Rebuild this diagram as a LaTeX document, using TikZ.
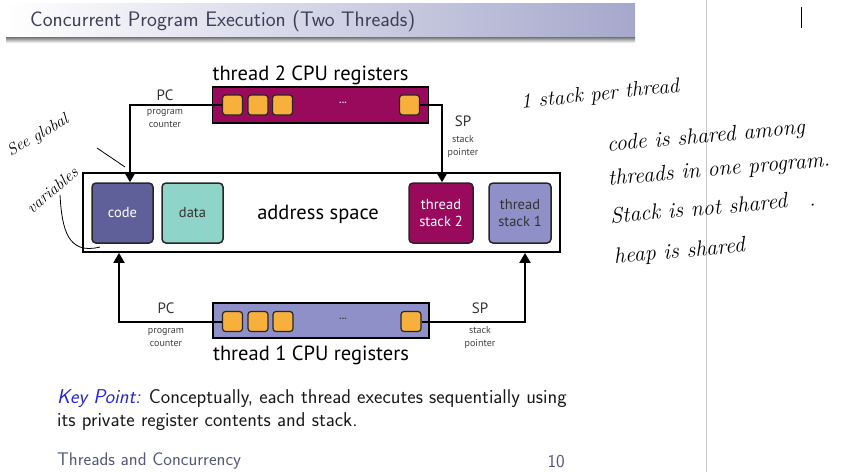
\documentclass[tikz,border=0pt]{standalone}
\usepackage{fontspec}
\newfontfamily\dfont{PT Sans}
\usetikzlibrary{arrows.meta}
\definecolor{magbar}{HTML}{990A5C}
\definecolor{regorange}{HTML}{F7B03C}
\definecolor{codecol}{HTML}{5F5F99}
\definecolor{datacol}{HTML}{8FD4C9}
\definecolor{lavcol}{HTML}{9090C8}
\definecolor{titleblue}{HTML}{A6A8CC}
\definecolor{titletext}{HTML}{3E3E58}
\definecolor{keyblue}{HTML}{2424D8}
\definecolor{foot}{HTML}{55577A}
\begin{document}
\begin{tikzpicture}[x=1pt,y=-1pt,
  reg/.style={draw=black!85, line width=1.2pt, fill=regorange, rounded corners=3pt, minimum width=20pt, minimum height=20pt, inner sep=0pt},
  regbar/.style={draw=black, line width=1.6pt, minimum width=216pt, minimum height=36pt, inner sep=0pt},
  mem/.style={draw=black!85, line width=1.5pt, rounded corners=4pt, minimum width=61pt, minimum height=60pt, inner sep=0pt, align=center, font=\dfont\fontsize{14.5}{17}\selectfont},
  wire/.style={line width=2pt, -{Triangle[length=10pt,width=11pt]}},
  big/.style={font=\dfont\fontsize{20.5}{22}\selectfont},
  reglbl/.style={font=\dfont\fontsize{15}{16}\selectfont, text=black!80},
  small/.style={font=\dfont\fontsize{10}{13}\selectfont, align=center, text=black!75},
  hand/.style={font=\itshape\fontsize{21}{24}\selectfont, text=black, inner sep=0pt},
  para/.style={hand, rotate=5, anchor=west, font=\itshape\fontsize{22}{24}\selectfont},
  slide/.style={font=\sffamily\fontsize{20}{23}\selectfont, text=black!90}
]
\useasboundingbox (0,0) rectangle (842,472);
% title bar
\shade[left color=white, right color=titleblue] (6,3) rectangle (635,37);
\shade[top color=black!55, bottom color=white] (6,37) rectangle (635,43);
\node[anchor=west, font=\sffamily\fontsize{21}{24}\selectfont, text=titletext, inner sep=0pt] (title) at (30,21) {Concurrent Program Execution (Two Threads)};
% page divider
\coordinate (vtop) at (706.5,0);
\coordinate (vbot) at (706.5,472);
\draw[black!22, line width=1pt] (vtop) -- (vbot);
% address space
\node[draw=black, line width=1.8pt, minimum width=477pt, minimum height=79pt, inner sep=0pt] (addr) at (321.5,212.5) {};
\node[big] (addrlbl) at (318,214) {address space};
\node[mem, fill=codecol, text=white] (code) at (122.5,213) {code};
\node[mem, fill=datacol, text=black!80] (data) at (192.5,213) {data};
\node[mem, fill=magbar, text=white, minimum width=64pt] (ts2) at (441,213) {thread\\stack 2};
\node[mem, fill=lavcol, text=black!80, minimum width=62pt] (ts1) at (520,213) {thread\\stack 1};
% thread 2 registers
\node[regbar, fill=magbar] (t2bar) at (320.5,105) {};
\node[reg] (r21) at (232.5,105) {};
\node[reg] (r22) at (258,105) {};
\node[reg] (r23) at (282.5,105) {};
\node[reg] (r24) at (409.5,105) {};
\node[font=\dfont\bfseries\fontsize{10}{10}\selectfont, text=white!85!magbar] (t2dots) at (343,103) {...};
\node[big] (t2lbl) at (310.5,75) {thread 2 CPU registers};
% thread 1 registers
\node[regbar, fill=lavcol, minimum height=35pt] (t1bar) at (321,320.5) {};
\node[reg] (r11) at (232.5,321.5) {};
\node[reg] (r12) at (258,321.5) {};
\node[reg] (r13) at (283,321.5) {};
\node[reg] (r14) at (411,321.5) {};
\node[font=\dfont\bfseries\fontsize{10}{10}\selectfont, text=black!75] (t1dots) at (343,319) {...};
\node[big] (t1lbl) at (311,355) {thread 1 CPU registers};
% wires
\draw[wire] (r21.west) -| ([xshift=7.5pt]code.north);
\draw[wire] (r24.east) -| ([xshift=1pt]ts2.north);
\draw[wire] (r11.west) -| ([xshift=-3.5pt]code.south |- addr.south);
\draw[wire] (r14.east) -| ([xshift=5pt]ts1.south |- addr.south);
% labels
\node[reglbl] (pc2) at (165,95) {PC};
\node[small] (pc2s) at (165,118) {program\\counter};
\node[reglbl] (sp2) at (463,121) {SP};
\node[small] (sp2s) at (463,146) {stack\\pointer};
\node[reglbl] (pc1) at (166,308) {PC};
\node[small] (pc1s) at (166,337.5) {program\\counter};
\node[reglbl] (sp1) at (480,308) {SP};
\node[small] (sp1s) at (480,337.5) {stack\\pointer};
% slide text
\node[slide, anchor=north west, align=left, inner sep=0pt] (key) at (57,389) {\textcolor{keyblue}{\itshape Key Point:} Conceptually, each thread executes sequentially using\\its private register contents and stack.};
\node[anchor=west, font=\sffamily\fontsize{18.3}{20}\selectfont, text=foot, inner sep=0pt] (foot1) at (57,461) {Threads and Concurrency};
\node[anchor=east, font=\sffamily\fontsize{18.3}{20}\selectfont, text=foot, inner sep=0pt] (foot2) at (565,461) {10};
% handwriting
\node[hand, rotate=30, font=\itshape\fontsize{16.5}{20}\selectfont] (hw1a) at (38,136) {See global};
\node[hand, rotate=40, font=\itshape\fontsize{16.5}{20}\selectfont] (hw1b) at (52,190) {variables};
\coordinate (hwa1) at (97,148);
\coordinate (hwa2) at (125,167);
\draw[line width=0.8pt] (hwa1) -- (hwa2);
\coordinate (hwc1) at (60,195);
\coordinate (hwc2) at (100,247);
\draw[line width=0.8pt] (hwc1) .. controls (62,230) and (68,255) .. (hwc2);
\node[hand, rotate=6] (hw2) at (600,95) {1 stack per thread};
\node[para] (hw3a) at (607,146) {code is shared among};
\node[para] (hw3b) at (608,180) {threads in one program.};
\node[para] (hw3c) at (610,216) {Stack is not shared\quad.};
\node[para] (hw3d) at (614,258) {heap is shared};
\coordinate (bar1) at (801,7);
\coordinate (bar2) at (801,28);
\draw[line width=1pt] (bar1) -- (bar2);
\end{tikzpicture}
\end{document}
